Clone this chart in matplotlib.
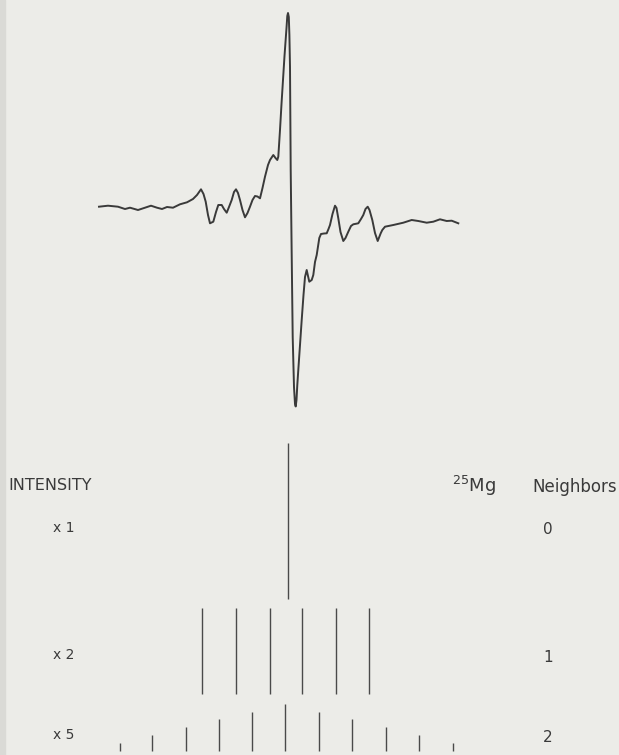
import numpy as np
import matplotlib
matplotlib.use("Agg")
import matplotlib.pyplot as plt
from matplotlib.patches import Rectangle

#EPR derivative spectrum (field offset and signal in arbitrary units)
field = [-188, -179, -169, -162, -157, -149, -142, -136, -130, -125, -120, -114,
         -107, -100, -94, -90, -86, -83.5, -81.3, -79, -77, -73.7, -71, -68.7,
         -65.3, -63, -60.3, -58, -55.3, -53, -51, -49, -47, -44.5, -42, -39.5,
         -37, -34.5, -32, -29.5, -27, -24.5, -22, -19, -17, -13.7, -11.5, -9.7,
         -8.7, -7, -5.5, -4, -2.5, -1.5, -0.5, 0.3, 1, 1.8, 2.4, 3, 3.7, 4.7,
         5.7, 7, 8, 8.7, 9.5, 10.3, 11.3, 13, 14.7, 16.5, 18, 19.7, 21, 22.3,
         24.7, 26.3, 28, 29.7, 32.3, 34, 37, 39.7, 41.5, 43, 45.5, 48, 49.5,
         51.3, 53.5, 56.3, 58.5, 61.3, 64, 66.3, 71.3, 74, 76.3, 78.5, 80.7,
         82.5, 85.3, 88, 90.7, 93.7, 95.3, 98, 106.3, 116.3, 124.7, 131.3,
         139.7, 146.3, 153, 159.7, 164.7, 171.3]
signal = [7.3, 8.3, 7.3, 5, 6.3, 4, 6.3, 8.3, 6.3, 5, 7, 6.3,
          9.7, 11.7, 15, 19, 24.7, 20, 12.3, -1, -9.3, -7.7, 2, 9,
          9, 5, 1.3, 7, 14, 22, 24.7, 21, 14, 4, -3.3, 1,
          7.3, 14, 18, 17.5, 15.7, 26, 37.3, 49, 54, 59, 56, 54,
          57.3, 84, 110, 134, 158, 172, 186, 198, 201, 197, 179, 147, 44, -41,
          -123, -173, -190, -192.5, -186, -171, -156, -131, -106, -81, -63, -56, -62, -67.7,
          -66, -61, -48, -41, -24, -20, -19.5, -19.3, -15, -11, 0, 8.3, 6,
          -4.3, -18, -27, -24, -17.7, -12, -10.3, -9.3, -5, -1, 5, 7.3,
          4, -6, -19, -27, -19.3, -16, -12.7, -11, -8.7, -6, -7,
          -8.7, -7.7, -5.3, -7, -6.7, -9.3]

#stick diagram: line positions (same field units) and relative intensities
row_labels = ["x 1", "x 2", "x 5"]
neighbors = ["0", "1", "2"]
stick_pos = [
    [1],
    [-85, -51, -17, 15, 49, 82],
    [-167, -135, -101, -68, -35, -2, 32, 65, 99, 132, 166],
]
stick_int = [
    [1],
    [1, 1, 1, 1, 1, 1],
    [1, 2, 3, 4, 5, 6, 5, 4, 3, 2, 1],
]

#layout of the rows (baseline, height per unit intensity, text height)
row_base = [156, 61, 4]
row_scale = [156, 86, 7.9]
row_text = [227, 100, 20]

bg = "#ecece8"
ink = "#3a3a3a"

fig = plt.figure(figsize=(6.19, 7.55), dpi=100, facecolor=bg)

#spectrum
ax1 = fig.add_axes([0, 335 / 755, 1, 420 / 755])
ax1.set_facecolor(bg)
ax1.plot(field, signal, color=ink, lw=1.4, solid_joinstyle="round")
ax1.set_xlim(-287, 332)
ax1.set_ylim(-206, 214)
ax1.axis("off")

#stick diagram
ax2 = fig.add_axes([0, 0, 1, 335 / 755])
ax2.set_facecolor(bg)
for j in range(len(stick_pos)):
    heights = np.multiply(row_scale[j], stick_int[j])
    ax2.vlines(stick_pos[j], row_base[j], row_base[j] + heights, color="#4a4a4a", lw=1.0)
    ax2.text(-234, row_text[j], row_labels[j], fontsize=10, color=ink, va="center", ha="left")
    ax2.text(261, row_text[j] - 2, neighbors[j], fontsize=11, color=ink, va="center", ha="center")

ax2.text(-279, 270, "INTENSITY", fontsize=11.5, color=ink, va="center", ha="left")
ax2.text(187, 269, r"$^{25}$Mg", fontsize=13, color=ink, va="center", ha="center")
ax2.text(330, 268, "Neighbors", fontsize=12, color=ink, va="center", ha="right")
ax2.set_xlim(-287, 332)
ax2.set_ylim(0, 335)
ax2.axis("off")

#darker scan edge on the left
fig.patches.append(Rectangle((0, 0), 5 / 619, 1, transform=fig.transFigure,
                             color="#dadad6", zorder=-1))

plt.savefig("out.png", facecolor=bg)
